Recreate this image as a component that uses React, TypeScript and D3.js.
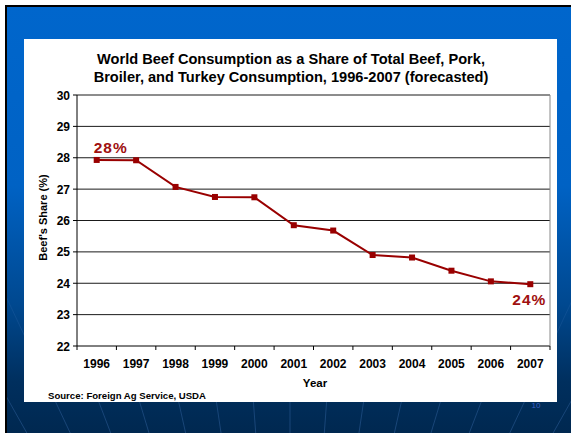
import React from "react";
import * as d3 from "d3";

const years = ["1996", "1997", "1998", "1999", "2000", "2001", "2002", "2003", "2004", "2005", "2006", "2007"];
const beefShare = [27.93, 27.92, 27.07, 26.75, 26.74, 25.85, 25.68, 24.9, 24.82, 24.4, 24.06, 23.97];
const yTicks = [22, 23, 24, 25, 26, 27, 28, 29, 30];
const titleLines = [
  "World Beef Consumption as a Share of Total Beef, Pork,",
  "Broiler, and Turkey Consumption, 1996-2007 (forecasted)",
];
const startLabel = "28%";
const endLabel = "24%";

const W = 571;
const H = 433;
const FONT = "'Liberation Sans', Arial, sans-serif";
const RED = "#990000";

export default function App() {
  const plot = { left: 77, right: 550, top: 95, bottom: 346 };
  const x = d3.scaleBand<string>().domain(years).range([plot.left, plot.right]);
  const y = d3.scaleLinear().domain([22, 30]).range([plot.bottom, plot.top]);
  const cx = (yr: string) => (x(yr) ?? 0) + x.bandwidth() / 2;

  const line = d3
    .line<number>()
    .x((_, i) => cx(years[i]))
    .y((d) => y(d));

  // fan of faint rays on the slide background
  const rays = d3.range(-14, 15).map((k) => {
    const ox = 290;
    const oy = 900;
    const ang = (k * 4.2 * Math.PI) / 180;
    return { x1: ox, y1: oy, x2: ox + Math.sin(ang) * 1000, y2: oy - Math.cos(ang) * 1000 };
  });

  return (
    <div style={{ position: "absolute", left: 0, top: 0 }}>
      <svg width={W} height={H} style={{ display: "block" }}>
        <defs>
          <linearGradient id="slideBg" x1="0" y1="0" x2="0" y2="1">
            <stop offset="0" stopColor="#0066CC" />
            <stop offset="0.42" stopColor="#0062C4" />
            <stop offset="0.7" stopColor="#00488F" />
            <stop offset="0.88" stopColor="#002F5E" />
            <stop offset="1" stopColor="#002850" />
          </linearGradient>
          <linearGradient id="rayFade" gradientUnits="userSpaceOnUse" x1="0" y1="200" x2="0" y2="433">
            <stop offset="0" stopColor="#fff" stopOpacity={0} />
            <stop offset="1" stopColor="#fff" stopOpacity={1} />
          </linearGradient>
          <mask id="rayMask">
            <rect x={0} y={0} width={W} height={H} fill="url(#rayFade)" />
          </mask>
          <clipPath id="slideClip">
            <rect x={7} y={7} width={W - 7} height={H - 7} />
          </clipPath>
        </defs>
        <rect x={0} y={0} width={W} height={H} fill="#ffffff" />
        <rect x={5} y={5} width={W - 5} height={H - 5} fill="#000000" />
        <rect x={7} y={7} width={W - 7} height={H - 7} fill="url(#slideBg)" />
        <g clipPath="url(#slideClip)" mask="url(#rayMask)">
          {rays.map((r, i) => (
            <line key={i} x1={r.x1} y1={r.y1} x2={r.x2} y2={r.y2} stroke="#4A7FC0" strokeOpacity={0.45} strokeWidth={0.8} />
          ))}
        </g>
        <text x={536} y={408} fontFamily={FONT} fontSize={8} fill="#3D5FC0" textAnchor="middle">10</text>

        {/* white chart panel */}
        <rect x={24} y={39} width={533} height={363} fill="#ffffff" />

        {/* title */}
        {titleLines.map((t, i) => (
          <text key={i} x={291} y={64 + i * 18} fontFamily={FONT} fontSize={14.6} fontWeight="bold" textAnchor="middle" fill="#000">
            {t}
          </text>
        ))}

        {/* grid lines */}
        {yTicks.map((t) => (
          <line key={t} x1={plot.left} x2={plot.right} y1={y(t)} y2={y(t)} stroke={t === 22 ? "#000" : "#1a1a1a"} strokeWidth={1} />
        ))}
        <line x1={plot.right} x2={plot.right} y1={plot.top} y2={plot.bottom} stroke="#888" strokeWidth={1} />
        <line x1={plot.left} x2={plot.left} y1={plot.top} y2={plot.bottom} stroke="#000" strokeWidth={1} />

        {/* y ticks & labels */}
        {yTicks.map((t) => (
          <g key={t}>
            <line x1={plot.left - 4} x2={plot.left} y1={y(t)} y2={y(t)} stroke="#000" />
            <text x={70} y={y(t) + 4.5} fontFamily={FONT} fontSize={12} fontWeight="bold" textAnchor="end" fill="#000">
              {t}
            </text>
          </g>
        ))}

        {/* x ticks & labels */}
        {years.map((yr) => (
          <g key={yr}>
            <line x1={x(yr) ?? 0} x2={x(yr) ?? 0} y1={plot.bottom} y2={plot.bottom + 4} stroke="#000" />
            <text x={cx(yr)} y={368} fontFamily={FONT} fontSize={12} fontWeight="bold" textAnchor="middle" fill="#000">
              {yr}
            </text>
          </g>
        ))}
        <line x1={plot.right} x2={plot.right} y1={plot.bottom} y2={plot.bottom + 4} stroke="#000" />

        {/* axis titles */}
        <text x={315} y={387} fontFamily={FONT} fontSize={11.5} fontWeight="bold" textAnchor="middle" fill="#000">Year</text>
        <text
          transform={`translate(47, ${(plot.top + plot.bottom) / 2 - 3}) rotate(-90)`}
          fontFamily={FONT}
          fontSize={11}
          fontWeight="bold"
          textAnchor="middle"
          fill="#000"
        >
          Beef's Share (%)
        </text>

        {/* series */}
        <path d={line(beefShare) ?? ""} fill="none" stroke={RED} strokeWidth={2} />
        {beefShare.map((v, i) => (
          <rect key={years[i]} x={cx(years[i]) - 3} y={y(v) - 3} width={6} height={6} fill={RED} />
        ))}
        <text x={cx(years[0]) + 14} y={y(beefShare[0]) - 7} fontFamily={FONT} fontSize={15.5} fontWeight="bold" letterSpacing={1} textAnchor="middle" fill="#A01010">
          {startLabel}
        </text>
        <text x={cx(years[years.length - 1]) - 1} y={y(beefShare[beefShare.length - 1]) + 21} fontFamily={FONT} fontSize={15.5} fontWeight="bold" letterSpacing={1} textAnchor="middle" fill="#A01010">
          {endLabel}
        </text>

        {/* source */}
        <text x={48} y={399} fontFamily={FONT} fontSize={9.6} fontWeight="bold" fill="#000">
          Source: Foreign Ag Service, USDA
        </text>
      </svg>
    </div>
  );
}
